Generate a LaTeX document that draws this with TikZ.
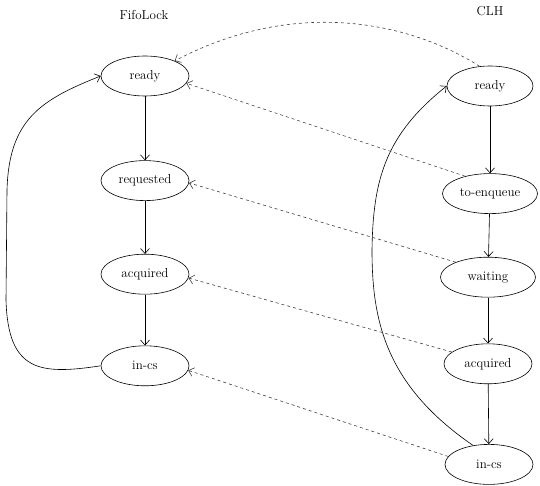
\documentclass[tikz,border=0pt]{standalone}
\usetikzlibrary{positioning,arrows.meta,shapes.geometric}

\begin{document}
\begin{tikzpicture}[x=1pt,y=-1pt,>={Straight Barb[length=5pt,width=9pt]},line width=0.6pt,every node/.style={font=\fontsize{13}{15}\selectfont}]
\tikzstyle{st}=[draw,ellipse,minimum width=88pt,minimum height=40pt,inner sep=1pt]
\tikzstyle{sync}=[->,dashed,black!75]
\useasboundingbox (0,0) rectangle (540,486);

% FifoLock
\node (fifolbl) at (144,15) {FifoLock};
\node[st] (fready) at (145,76) {ready};
\node[st,below=64pt of fready] (freq) {requested};
\node[st,below=53pt of freq] (facq) {acquired};
\node[st,below=51pt of facq] (fincs) {in-cs};

% CLH
\node (clhlbl) at (490,11) {CLH};
\node[st,minimum width=86pt] (cready) at (490,86) {ready};
\node[st,minimum width=95pt,below=67pt of cready] (ctoenq) {to-enqueue};
\node[st,minimum width=95pt,below=43pt of ctoenq,xshift=-2pt] (cwait) {waiting};
\node[st,below=46pt of cwait] (cacq) {acquired};
\node[st,below=60pt of cacq,xshift=1pt] (cincs) {in-cs};

\draw[->] (fready) -- (freq);
\draw[->] (freq) -- (facq);
\draw[->] (facq) -- (fincs);
\draw[->] (fincs.west) .. controls (40,375) and (8,372) .. (6,300) -- (7,190) .. controls (9,120) and (40,100) .. (fready.west);

\draw[->] (cready) -- (ctoenq);
\draw[->] (ctoenq) -- (cwait);
\draw[->] (cwait) -- (cacq);
\draw[->] (cacq) -- (cincs);
\draw[->] (cincs.130) .. controls (385,385) and (372,320) .. (372,250) .. controls (373,180) and (385,135) .. (cready.west);

% hand-over
\draw[sync] (cready.118) .. controls (415,25) and (300,-5) .. (fready.27);
\draw[sync] (ctoenq.145) -- (fready.350);
\draw[sync] (cwait.155) -- (freq.357);
\draw[sync] (cacq.162) -- (facq.355);
\draw[sync] (cincs.169) -- (fincs.354);
\end{tikzpicture}
\end{document}
